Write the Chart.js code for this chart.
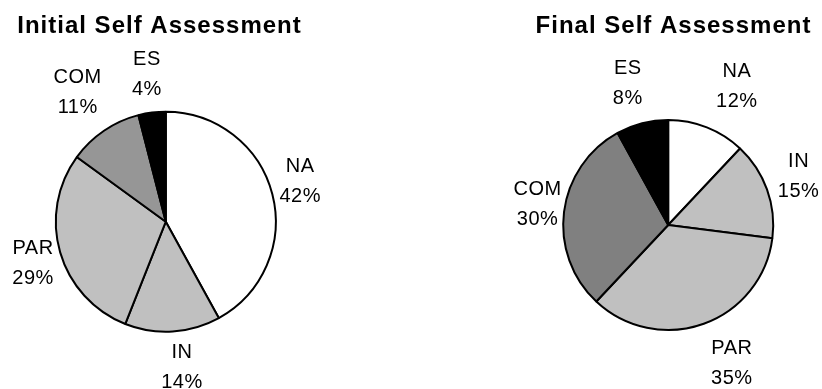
<!DOCTYPE html>
<html>
<head>
<meta charset="utf-8">
<script src="https://cdn.jsdelivr.net/npm/chart.js@4/dist/chart.umd.min.js"></script>
<style>
  html, body { margin: 0; padding: 0; background: #ffffff; }
  #wrap { position: relative; width: 822px; height: 389px; }
  .cell { position: absolute; top: 0; width: 411px; height: 389px; }
  canvas { display: block; }
</style>
</head>
<body>
<div id="wrap">
  <div class="cell" style="left:0"><canvas id="initial" width="411" height="389"></canvas></div>
  <div class="cell" style="left:411px"><canvas id="final" width="411" height="389"></canvas></div>
</div>
<script>
// Competency levels, clockwise from 12 o'clock
const categories = ['NA', 'IN', 'PAR', 'COM', 'ES'];

// Share of responses (%) per level
const initialValues = [42, 14, 29, 11, 4];
const finalValues = [12, 15, 35, 30, 8];

const initialTitle = 'Initial Self Assessment';
const finalTitle = 'Final Self Assessment';

// Slice fills
const initialColors = ['#ffffff', '#c0c0c0', '#c0c0c0', '#969696', '#000000'];
const finalColors = ['#ffffff', '#c0c0c0', '#c0c0c0', '#808080', '#000000'];

// Label nudges (px) measured from each slice's outer mid-point
const initialLabelOffsets = [[27.8, -14.1], [9.3, 34.5], [-27.1, 9.8], [-26.3, -39.9], [-5.1, -39.1]];
const finalLabelOffsets = [[30, -41.9], [31.6, -14.1], [28.1, 38.3], [-26.5, -8.7], [-14.3, -40.8]];

const FONT = '"Liberation Sans", Arial, Helvetica, sans-serif';

// Draws the two-line category / percent labels and the chart heading
const pieLabels = {
  id: 'pieLabels',
  afterDraw(chart, args, opts) {
    const ctx = chart.ctx;
    const meta = chart.getDatasetMeta(0);
    const values = chart.data.datasets[0].data;
    ctx.save();
    ctx.fillStyle = '#000000';
    ctx.textAlign = 'center';
    ctx.textBaseline = 'alphabetic';
    ctx.font = '20px ' + FONT;
    ctx.letterSpacing = '0.5px';
    meta.data.forEach((arc, i) => {
      const p = arc.getProps(['x', 'y', 'startAngle', 'endAngle', 'outerRadius'], true);
      const mid = (p.startAngle + p.endAngle) / 2;
      const ax = p.x + Math.cos(mid) * p.outerRadius;
      const ay = p.y + Math.sin(mid) * p.outerRadius;
      const [dx, dy] = opts.offsets[i];
      const cx = ax + dx, cy = ay + dy;
      ctx.fillText(chart.data.labels[i], cx, cy - 15 + 7);
      ctx.fillText(values[i] + '%', cx, cy + 15 + 7);
    });
    ctx.font = 'bold 24px ' + FONT;
    ctx.letterSpacing = '1px';
    ctx.fillText(opts.title, opts.titleX, 32.5);
    ctx.restore();
  }
};

function makePie(id, values, colors, offsets, title, titleX, padding) {
  return new Chart(document.getElementById(id), {
    type: 'pie',
    data: {
      labels: categories,
      datasets: [{
        data: values,
        backgroundColor: colors,
        borderColor: '#000000',
        borderWidth: 2,
        borderAlign: 'center'
      }]
    },
    options: {
      responsive: false,
      animation: false,
      layout: { padding: padding },
      plugins: {
        legend: { display: false },
        title: { display: false },
        tooltip: { enabled: false },
        pieLabels: { offsets: offsets, title: title, titleX: titleX }
      }
    },
    plugins: [pieLabels]
  });
}

makePie('initial', initialValues, initialColors, initialLabelOffsets, initialTitle, 159.5,
  { left: 54.8, right: 134.2, top: 110.7, bottom: 56.3 });
makePie('final', finalValues, finalColors, finalLabelOffsets, finalTitle, 262.5,
  { left: 151.2, right: 47.8, top: 119, bottom: 58 });
</script>
</body>
</html>
